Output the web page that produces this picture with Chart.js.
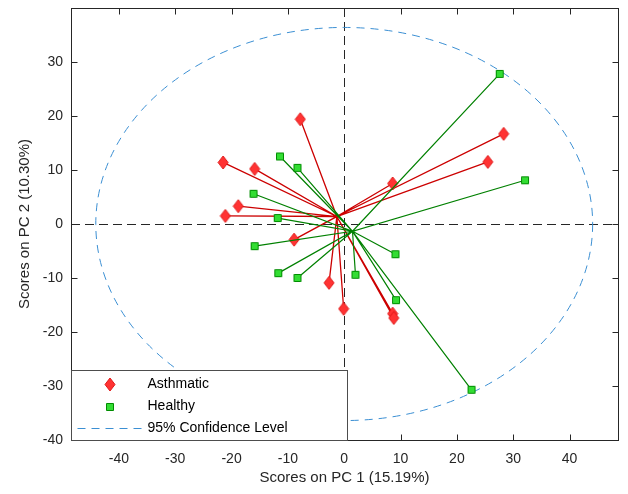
<!DOCTYPE html>
<html lang="en">
  <head>
    <title>Scores on PC 1 vs PC 2</title>
    <meta charset="UTF-8" />
    <script src="https://cdn.jsdelivr.net/npm/chart.js@4.4.1/dist/chart.umd.min.js"></script>
    <style>
      body { margin: 0; background: #fff; }
    </style>
  </head>

  <body>
    <canvas id="chart" width="628" height="494"></canvas>

    <script>
      // scores
      const asthmaticX = [-7.8, -21.5, -15.9, -18.8, -21.1, -8.9, -2.7, -0.1, 8.6, 8.6, 8.8, 28.3, 25.5]
      const asthmaticY = [19.4, 11.4, 10.2, 3.3, 1.5, -2.9, -10.9, -15.7, 7.5, -16.6, -17.4, 16.7, 11.5]
      const healthyX = [27.6, 32.1, -11.4, -8.3, -16.1, -11.8, -15.9, -11.7, -8.3, 2.0, 9.1, 9.2, 22.6]
      const healthyY = [27.8, 8.1, 12.5, 10.4, 5.6, 1.1, -4.1, -9.1, -10.0, -9.4, -5.6, -14.1, -30.7]

      const xTicks = [-40, -30, -20, -10, 0, 10, 20, 30, 40]
      const yTicks = [-40, -30, -20, -10, 0, 10, 20, 30]
      const legendLabels = ['Asthmatic', 'Healthy', '95% Confidence Level']

      // 95% confidence ellipse (center and semi-axes)
      const ellipseCenter = [0, 0]
      const ellipseRadii = [44.1, 36.4]

      const font = "'Liberation Sans', Arial, sans-serif"
      const axisColor = '#262626'

      const mean = (arr) => arr.reduce((a, b) => a + b, 0) / arr.length

      // center, point, center, point ... so the line draws a star
      const starData = (xs, ys) => {
        const cx = mean(xs)
        const cy = mean(ys)
        const out = []
        xs.forEach((x, i) => {
          out.push({ x: cx, y: cy })
          out.push({ x: x, y: ys[i] })
        })
        return out
      }

      const makeMarker = (w, h, path, fill, stroke) => {
        const c = document.createElement('canvas')
        c.width = w
        c.height = h
        const g = c.getContext('2d')
        g.beginPath()
        path(g)
        g.fillStyle = fill
        g.fill()
        g.strokeStyle = stroke
        g.lineWidth = 1
        g.stroke()
        return c
      }

      const diamond = makeMarker(12, 15, (g) => {
        g.moveTo(6, 1)
        g.lineTo(11, 7.5)
        g.lineTo(6, 14)
        g.lineTo(1, 7.5)
        g.closePath()
      }, '#ff3333', '#e01a1a')

      const square = makeMarker(10, 10, (g) => {
        g.rect(1.5, 1.5, 7, 7)
      }, '#33dd33', '#008c00')

      const overlay = {
        id: 'overlay',
        beforeDatasetsDraw(chart) {
          const { ctx, chartArea: a, scales: { x, y } } = chart
          ctx.save()
          ctx.beginPath()
          ctx.rect(a.left, a.top, a.width, a.height)
          ctx.clip()

          // zero lines
          ctx.strokeStyle = axisColor
          ctx.lineWidth = 1
          ctx.setLineDash([9, 5])
          const x0 = Math.round(x.getPixelForValue(0)) + 0.5
          const y0 = Math.round(y.getPixelForValue(0)) + 0.5
          ctx.beginPath()
          ctx.moveTo(a.left, y0)
          ctx.lineTo(a.right, y0)
          ctx.moveTo(x0, a.top)
          ctx.lineTo(x0, a.bottom)
          ctx.stroke()

          // confidence ellipse
          const ex = x.getPixelForValue(ellipseCenter[0])
          const ey = y.getPixelForValue(ellipseCenter[1])
          const rx = x.getPixelForValue(ellipseCenter[0] + ellipseRadii[0]) - ex
          const ry = ey - y.getPixelForValue(ellipseCenter[1] + ellipseRadii[1])
          ctx.strokeStyle = '#3b8fd3'
          ctx.setLineDash([8, 6])
          ctx.beginPath()
          ctx.ellipse(ex, ey, rx, ry, 0, 0, 2 * Math.PI)
          ctx.stroke()
          ctx.restore()
        },
        afterDraw(chart) {
          const { ctx, chartArea: a, scales: { x, y } } = chart
          const L = Math.round(a.left) + 0.5
          const R = Math.round(a.right) + 0.5
          const T = Math.round(a.top) + 0.5
          const B = Math.round(a.bottom) + 0.5
          ctx.save()
          ctx.strokeStyle = axisColor
          ctx.lineWidth = 1
          ctx.setLineDash([])
          ctx.strokeRect(L, T, R - L, B - T)

          // inward tick marks on all four sides
          ctx.beginPath()
          xTicks.forEach((v) => {
            const px = Math.round(x.getPixelForValue(v)) + 0.5
            ctx.moveTo(px, B)
            ctx.lineTo(px, B - 6)
            ctx.moveTo(px, T)
            ctx.lineTo(px, T + 6)
          })
          yTicks.forEach((v) => {
            const py = Math.round(y.getPixelForValue(v)) + 0.5
            ctx.moveTo(L, py)
            ctx.lineTo(L + 6, py)
            ctx.moveTo(R, py)
            ctx.lineTo(R - 6, py)
          })
          ctx.stroke()

          // legend box, bottom left
          const bx = L
          const bw = 276
          const bh = 70
          const by = B - bh
          ctx.fillStyle = '#fff'
          ctx.fillRect(bx, by, bw, bh)
          ctx.strokeStyle = '#4d4d4d'
          ctx.strokeRect(bx, by, bw, bh)

          const rows = [by + 14, by + 36, by + 57.5]
          const mx = bx + 38
          ctx.drawImage(diamond, Math.round(mx - 6), Math.round(rows[0] - 7.5))
          ctx.drawImage(square, Math.round(mx - 5), Math.round(rows[1] - 5))
          ctx.strokeStyle = '#3b8fd3'
          ctx.setLineDash([8, 6])
          ctx.beginPath()
          ctx.moveTo(bx + 6, Math.round(rows[2]) + 0.5)
          ctx.lineTo(bx + 71, Math.round(rows[2]) + 0.5)
          ctx.stroke()

          ctx.fillStyle = '#000'
          ctx.font = '14px ' + font
          ctx.textBaseline = 'middle'
          ctx.textAlign = 'left'
          legendLabels.forEach((t, i) => ctx.fillText(t, bx + 76, rows[i]))
          ctx.restore()
        },
      }

      new Chart(document.getElementById('chart'), {
        type: 'scatter',
        data: {
          datasets: [
            {
              label: legendLabels[0],
              data: starData(asthmaticX, asthmaticY),
              showLine: true,
              borderColor: '#cc0000',
              borderWidth: 1.3,
              tension: 0,
              pointStyle: diamond,
              pointRadius: (c) => (c.dataIndex % 2 ? 6 : 0),
              pointHoverRadius: (c) => (c.dataIndex % 2 ? 6 : 0),
              order: 1,
            },
            {
              label: legendLabels[1],
              data: starData(healthyX, healthyY),
              showLine: true,
              borderColor: '#008000',
              borderWidth: 1.2,
              tension: 0,
              pointStyle: square,
              pointRadius: (c) => (c.dataIndex % 2 ? 5 : 0),
              pointHoverRadius: (c) => (c.dataIndex % 2 ? 5 : 0),
              order: 0,
            },
          ],
        },
        options: {
          responsive: false,
          devicePixelRatio: 1,
          animation: false,
          layout: {
            padding: { left: 0, right: 10, top: 8, bottom: 0 },
          },
          scales: {
            x: {
              type: 'linear',
              min: -48.5,
              max: 48.6,
              afterBuildTicks: (s) => {
                s.ticks = xTicks.map((v) => ({ value: v }))
              },
              afterFit: (s) => {
                s.height = 54
                s.paddingLeft = 0
                s.paddingRight = 0
              },
              grid: { display: false, drawTicks: false },
              border: { display: false },
              ticks: {
                padding: 11,
                color: axisColor,
                font: { family: font, size: 14 },
                callback: (v) => String(v),
              },
              title: {
                display: true,
                text: 'Scores on PC 1 (15.19%)',
                color: axisColor,
                font: { family: font, size: 15 },
                padding: { top: 0, bottom: 7 },
              },
            },
            y: {
              type: 'linear',
              min: -40,
              max: 40,
              afterBuildTicks: (s) => {
                s.ticks = yTicks.map((v) => ({ value: v }))
              },
              afterFit: (s) => {
                s.width = 71
                s.paddingTop = 0
                s.paddingBottom = 0
              },
              grid: { display: false, drawTicks: false },
              border: { display: false },
              ticks: {
                padding: 8,
                color: axisColor,
                font: { family: font, size: 14 },
                callback: (v) => String(v),
              },
              title: {
                display: true,
                text: 'Scores on PC 2 (10.30%)',
                color: axisColor,
                font: { family: font, size: 15 },
                padding: { top: 16, bottom: 0 },
              },
            },
          },
          plugins: {
            legend: { display: false },
            tooltip: { enabled: false },
          },
        },
        plugins: [overlay],
      })
    </script>
  </body>
</html>
